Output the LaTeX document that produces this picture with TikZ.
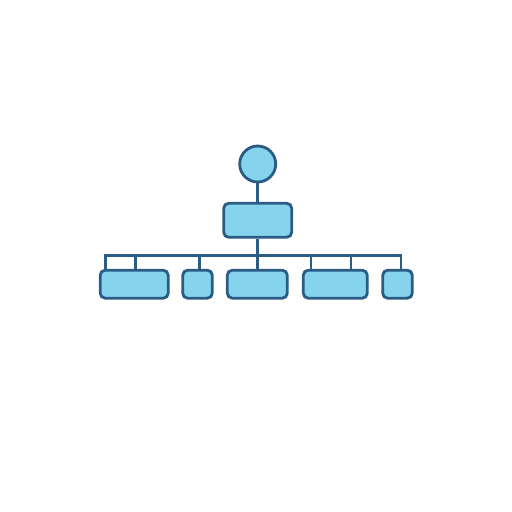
\documentclass[tikz,border=0pt]{standalone}
\usepackage{xcolor}
\usepackage{tikz}
\usetikzlibrary{positioning}

\definecolor{boxfill}{HTML}{86D3EE}
\definecolor{boxline}{HTML}{2A5C84}

\begin{document}
\begin{tikzpicture}[
    x=0.02cm, y=-0.02cm,
    box/.style={rectangle, draw=boxline, fill=boxfill, line width=1.6pt, rounded corners=5*0.02cm, minimum height=28*0.02cm, inner sep=0pt},
    top/.style={circle, draw=boxline, fill=boxfill, line width=1.6pt, minimum size=36*0.02cm, inner sep=0pt},
    link/.style={draw=boxline, line width=1.5pt}
]

% page
\useasboundingbox[fill=white] (0,0) rectangle (512,512);

% Top
\node[top] (root) at (257.7,164) {};
\node[box, minimum width=68*0.02cm, minimum height=34*0.02cm] (head) at (257.7,220.3) {};

% Bottom row
\node[box, minimum width=68*0.02cm] (b1) at (134.2,284.2) {};
\node[box, minimum width=29.6*0.02cm] (b2) at (197.5,284.2) {};
\node[box, minimum width=60*0.02cm] (b3) at (257.3,284.2) {};
\node[box, minimum width=64*0.02cm] (b4) at (335.3,284.2) {};
\node[box, minimum width=29.6*0.02cm] (b5) at (397.5,284.2) {};

% Bus
\coordinate (d1) at (105.7,255.7);
\coordinate (d2) at (135.7,255.7);
\coordinate (d3) at (199.3,255.7);
\coordinate (d4) at (257.7,255.7);
\coordinate (d5) at (311,255.7);
\coordinate (d6) at (351,255.7);
\coordinate (d7) at (401,255.7);

% Links
\draw[link] (root) -- (head);
\draw[link] (head) -- (d4);
\draw[link] (d1 |- b1.north) -- (d1) -- (d7) -- (d7 |- b5.north);
\draw[link] (d2) -- (d2 |- b1.north);
\draw[link] (d3) -- (d3 |- b2.north);
\draw[link] (d4) -- (d4 |- b3.north);
\draw[link] (d5) -- (d5 |- b4.north);
\draw[link] (d6) -- (d6 |- b4.north);

\end{tikzpicture}
\end{document}
